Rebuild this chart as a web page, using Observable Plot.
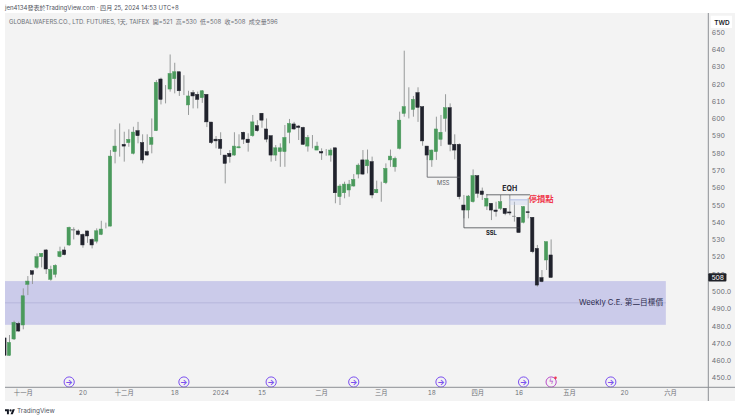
<!DOCTYPE html>
<html><head><meta charset="utf-8">
<script src="https://cdn.jsdelivr.net/npm/d3@7"></script>
<script src="https://cdn.jsdelivr.net/npm/@observablehq/plot@0.6"></script>
<style>
html,body{margin:0;padding:0;background:#fff;width:740px;height:419px;overflow:hidden}
body{font-family:Inter,"Noto Sans CJK TC",sans-serif}
#by{height:13px;line-height:16px;padding-left:5px;font-size:6.05px;color:#50535e;white-space:nowrap}
#chart{margin-left:5px;height:388px}
#chart svg{display:block}
#foot{height:18px;padding-left:5px;display:flex;align-items:center;gap:2px;font-size:6.4px;color:#50535e;padding-top:1px}
</style></head><body>
<div id="by">jen4134發表於TradingView.com · 四月 25, 2024 14:53 UTC+8</div>
<div id="chart"></div>
<div id="foot"><svg width="10" height="7" viewBox="0 0 36 24"><path d="M14 22H7V11H0V4h14v18zM28 22h-8l7.5-18h8L28 22z" fill="#131722"/><circle cx="20" cy="8" r="4" fill="#131722"/></svg><span>TradingView</span></div>
<script>
const opens=[473,462.9,472.4,481.4,480.5,504,511.9,513.8,520,523.9,506.9,509.8,520,523.9,526.8,535.4,534.9,532.9,534.9,530,529,532.9,537,537.7,580.8,586,585,586,579.8,592.9,586,580.8,585,592.9,622.8,615,617,623,627,616.4,607.8,614.9,613.9,612,613.9,597.9,588,587.9,578.8,579.8,578.8,583,592,588,590,595.8,603,593.9,590,578.8,580.8,580.8,592,596.8,595.6,594.8,584,588,581.7,580.8,581.7,578.8,583,554.7,557,558.6,560.9,567.8,576,572.6,575,557,562.4,562.8,576,572,582.7,602.9,607,605.2,614.9,606.8,584,576,580.8,587.9,600,606.2,585,585,549.9,547,551.8,566.9,558,549.3,550.9,547,548,548,545.9,543.5,542.8,539.9,546,542.8,524.8,507.9,518.1,521];
const highs=[473,474.7,483,482.4,501.7,508.8,511.9,521.9,522,524.4,514.8,515.6,525.8,525.8,537.4,537,535.8,533.5,535,530.6,536.4,540.8,539.7,581.7,593.7,597.1,592.3,593.7,595.2,598,590.8,590.8,600,622.2,623.6,619.3,637,632.2,627,625,616,616.4,615.5,616.4,613.9,597.9,589.8,592,578.8,581.7,592,590.8,592.3,591.4,602,599,603,600,590,584.6,585.6,596.2,599.7,598,596.2,595.2,590.4,590.4,586.5,582.7,582.3,582.7,583,562,563.4,564.4,567.8,574,581.7,582,577.9,564,563.4,574,582,577.9,603.9,639.2,618,613,618,606.8,584,582,601,602,614,608.7,590.8,585.6,555.7,555.7,570.5,566.9,560,556.3,550.9,551.8,555.7,548,555.7,551.8,542.8,549.3,553.8,542.8,526.8,512.3,528.7,530];
const lows=[463,462.7,471.8,476.6,478,497.8,504.2,513,513.8,510,506.1,508,519.6,520.8,526.2,530,532.3,525.2,528,524.8,527.7,532.5,536.4,537.6,574,577.9,575,583.6,579.2,585.6,574,578.4,579.8,592.7,608.1,608.7,615.5,614.5,613,613.5,602,605.8,605.8,609,595,585.2,582.7,578.8,562.4,574.4,578.4,582.7,585.2,580.8,589.4,592.3,594.6,586.2,575,575.4,572,572,585.6,593.3,587.5,584.6,580.8,582.7,581.7,576,578.4,575,550.9,549.9,553.8,554.7,560.5,565.3,567.4,568.2,553.8,556.7,551.8,562,572,569.2,582.1,601,600,601,598,584.2,576,572,576,584,592.3,581,576.3,553.2,542.2,542.2,551.3,554.1,552.8,547,541.2,543.2,547,544,544,540.3,534,539.3,542.2,522,502.7,505.2,512.3,508];
const closes=[463,470.4,482,477,497.4,505.9,509.8,520,521.9,512.9,512.7,515,522.9,521.2,537,535.6,532.9,526.8,532,526.8,535,536,537,578.2,584,586,584,587.9,592.1,590,576,578.8,589,620.9,611,615,626,627,616,616.4,613,613,611,616,598,586,587,582.7,574,577.9,584,583.6,588,586,598,592.9,599,588,578.8,583,583,589,597.1,593.9,594.8,585,589,588,584,580,581.7,581.7,557,560.9,562,562,564.7,573,567.8,576,555.7,558.9,562.4,571.1,578.2,576.9,599,606.8,607,611,606.4,587,578.8,581.7,593.9,592,606.2,585,581.7,554.7,547,555.1,566.9,556.7,556,553.8,547,546.2,551.8,545,545.3,543.2,534,549,545.5,522.9,503.6,505.6,528.7,508];
const firstIndex=-1;
const priceTicks=d3.range(450,651,10);
const dateTicks=[3,16,25,36,46,55,68,81,92,102,111,122,134,144];
const dateLabels=["十一月","20","十二月","18","2024","15","二月","三月","18","四月","16","五月","20","六月"];
const eventDays=[13,38,57,75,94,112,131];
const alertDays=[118];

const candles=opens.map((o,k)=>({i:k+firstIndex,o,h:highs[k],l:lows[k],c:closes[k]}));
const up="#4a9a5c",down="#20222c",wick="#979a9a";
const bodyColor=d=>Math.abs(d.c-d.o)<0.5?"#85888a":d.c>=d.o?up:down;
const violet="#7b4ff0",pink="#b94bc9";
const W=730,H=388,MR=26.7,MB=13.7;

function frameLines(){
  return (idx,sc,vals,dim)=>{
    const g=d3.create("svg:g").attr("stroke","#8d8f94").attr("stroke-width",1);
    g.append("line").attr("x1",dim.width-dim.marginRight).attr("x2",dim.width-dim.marginRight).attr("y1",0).attr("y2",dim.height);
    g.append("line").attr("x1",0).attr("x2",dim.width).attr("y1",dim.height-dim.marginBottom).attr("y2",dim.height-dim.marginBottom);
    return g.node();
  };
}

const plot=Plot.plot({
  width:W,height:H,marginLeft:0,marginTop:0,marginRight:MR,marginBottom:MB,
  style:{background:"#f3f3f3",fontFamily:'Inter,"Noto Sans CJK TC",sans-serif',fontSize:"6.8px"},
  x:{type:"linear",domain:[-0.871,152.35]},
  y:{type:"linear",domain:[444.45,660.99]},
  marks:[
    // weekly zone
    Plot.rect([{x1:-2,x2:143.1,y1:480.6,y2:505.9}],{x1:"x1",x2:"x2",y1:"y1",y2:"y2",fill:"#cbcbea"}),
    Plot.ruleY([493.6],{x1:-2,x2:143.1,stroke:"#b6b6dc",strokeWidth:1}),
    Plot.text(["Weekly C.E. 第二目標價"],{x:142.4,y:493.6,textAnchor:"end",fontSize:7.7,fill:"#2c2c4e"}),
    // wicks & bodies
    Plot.ruleX(candles,{x:"i",y1:"l",y2:"h",stroke:wick,strokeWidth:1}),
    Plot.rect(candles,{x1:d=>d.i-0.36,x2:d=>d.i+0.36,y1:"o",y2:"c",fill:bodyColor,stroke:bodyColor,strokeWidth:0.5}),
    // annotations
    Plot.line([[91,578.8],[91,566.3],[98,566.3]],{stroke:"#5a5c62",strokeWidth:0.8}),
    Plot.text(["MSS"],{x:94.5,y:563,fill:"#5a5c62",fontSize:5.7}),
    Plot.rect([{}],{x1:108.9,x2:113,y1:549.9,y2:553.2,fill:"#c8d3ee",fillOpacity:.4}),
    Plot.ruleY([553.2],{x1:108.9,x2:113,stroke:"#a8b8e6",strokeWidth:0.8}),
    Plot.ruleY([556.1],{x1:104,x2:113.5,stroke:"#45474d",strokeWidth:0.8}),
    Plot.text(["EQH"],{x:109,y:559.6,fill:"#23252c",fontSize:7,fontWeight:700}),
    Plot.text(["停損點"],{x:113.1,y:553.6,textAnchor:"start",fill:"#f0394d",fontSize:8.3,fontWeight:700}),
    Plot.line([[99,547],[99,537],[111,537]],{stroke:"#45474d",strokeWidth:0.8}),
    Plot.text(["SSL"],{x:105,y:533.7,fill:"#23252c",fontSize:5.8,fontWeight:700}),
    // event icons
    Plot.dot(eventDays,{x:d=>d,y:()=>447.8,r:5.1,stroke:violet,strokeWidth:1,fill:"#f3f3f3"}),
    Plot.text(eventDays,{x:d=>d,y:()=>447.8,text:()=>"→",fill:violet,fontSize:8,fontWeight:700}),
    Plot.dot(alertDays,{x:d=>d,y:()=>447.8,r:5.1,stroke:pink,strokeWidth:1,fill:"#f3f3f3"}),
    Plot.text(alertDays,{x:d=>d,y:()=>447.8,text:()=>"ϟ",fill:pink,fontSize:7.5,fontFamily:"DejaVu Sans"}),
    Plot.dot(alertDays,{x:d=>d+0.95,y:()=>450.2,r:1.3,fill:"#f0394d"}),
    // axes
    Plot.axisY(priceTicks,{anchor:"right",tickSize:0,tickPadding:3,label:null,fill:"#6d6f75",fontSize:6.8,
      tickFormat:d=>d<=500?d+".0":String(d)}),
    Plot.axisX(dateTicks,{anchor:"bottom",tickSize:0,tickPadding:3,label:null,fill:"#6d6f75",fontSize:6.3,
      tickFormat:d=>dateLabels[dateTicks.indexOf(d)],
      fontWeight:d=>d===46?700:400}),
    frameLines(),
    // price tag & currency box
    Plot.rect([{}],{x1:152.35,x2:156.3,y1:505.7,y2:510.4,fill:"#1f2128",rx:1}),
    Plot.text(["508"],{x:154.3,y:508,fill:"#fff",fontSize:6.8}),
    Plot.rect([{}],{x1:152.9,x2:157.5,y1:652.3,y2:659.4,fill:"#fff"}),
    Plot.text(["TWD"],{x:155.2,y:655.8,fill:"#131722",fontSize:6.4,fontWeight:600}),
    // legend line
    Plot.text(["GLOBALWAFERS.CO., LTD. FUTURES, 1天, TAIFEX  開=521  高=530  低=508  收=508  成交量596"],
      {x:-0.1,y:656,textAnchor:"start",fill:"#6b6e75",fontSize:5.97})
  ]
});
document.getElementById("chart").append(plot);
</script></body></html>
